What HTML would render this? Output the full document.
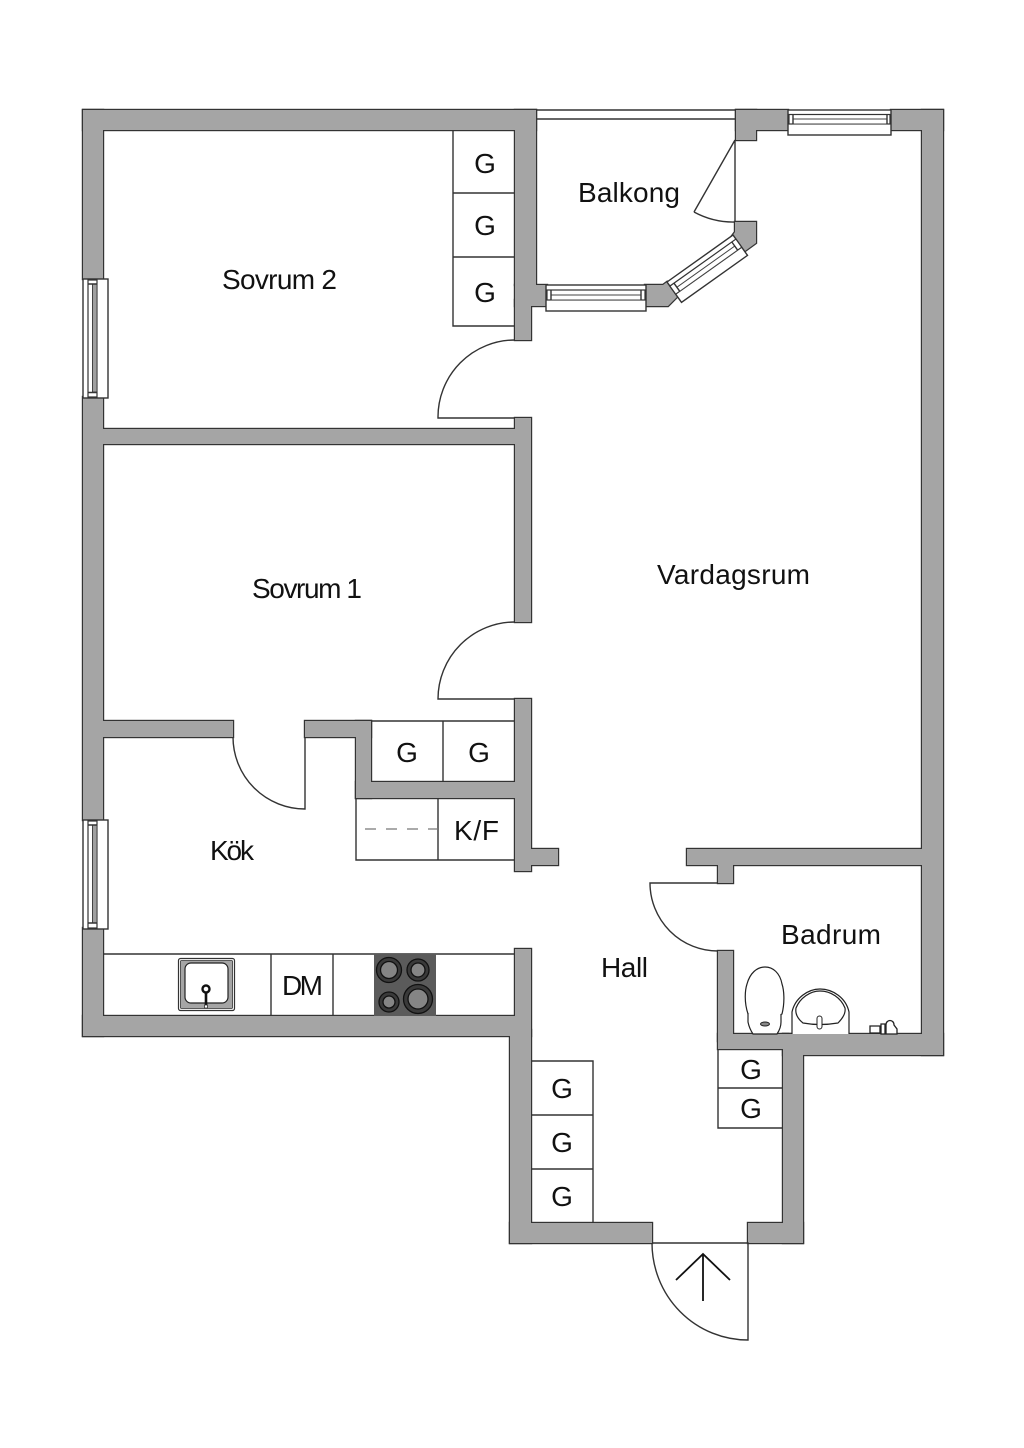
<!DOCTYPE html>
<html><head><meta charset="utf-8"><style>
html,body{margin:0;padding:0;background:#fff;width:1024px;height:1448px;overflow:hidden}
svg{display:block}
text{font-family:"Liberation Sans",sans-serif;font-size:28px;fill:#111}
.l{fill:none;stroke:#333;stroke-width:1.4}
.f{fill:#fff;stroke:#333;stroke-width:1.4}
</style></head><body>
<svg width="1024" height="1448" viewBox="0 0 1024 1448" xmlns="http://www.w3.org/2000/svg">
<defs><g id="w">
<rect x="83" y="110" width="20" height="169"/><rect x="83" y="397" width="20" height="423"/><rect x="83" y="928" width="20" height="108"/>
<rect x="83" y="110" width="453" height="20"/>
<rect x="515" y="110" width="21" height="175"/><rect x="515" y="285" width="32" height="21"/><rect x="515" y="300" width="16" height="40"/>
<rect x="515" y="418" width="16" height="204"/><rect x="515" y="699" width="16" height="172"/><rect x="525" y="849" width="33" height="16"/>
<rect x="100" y="429" width="420" height="15"/><rect x="100" y="721" width="133" height="16"/><rect x="305" y="721" width="66" height="16"/>
<rect x="356" y="721" width="15" height="77"/><rect x="356" y="782" width="164" height="16"/>
<rect x="515" y="949" width="16" height="87"/><rect x="83" y="1016" width="447" height="20"/>
<rect x="510" y="1030" width="21" height="213"/><rect x="510" y="1223" width="142" height="20"/><rect x="748" y="1223" width="55" height="20"/>
<rect x="783" y="1034" width="20" height="209"/><rect x="783" y="1034" width="160" height="21"/><rect x="718" y="1034" width="70" height="15"/>
<rect x="718" y="951" width="15" height="90"/><rect x="718" y="860" width="15" height="23"/><rect x="687" y="849" width="240" height="16"/>
<rect x="922" y="110" width="21" height="945"/><rect x="891" y="110" width="52" height="20"/><rect x="736" y="110" width="52" height="20"/><rect x="736" y="110" width="20" height="30"/>
<polygon points="735,222 756,222 756,243 745,251 732,236 735,232"/>
<polygon points="645,285 663,285 667,282 677,297 668,306 645,306"/>
</g></defs>

<use href="#w" fill="#333" stroke="#333" stroke-width="2.4"/>
<use href="#w" fill="#a5a5a5"/>

<!-- balcony -->
<path class="l" d="M536 110H735M536 119H735M735 140V222M735 140L694 212"/>
<path class="l" d="M694 212A82 82 0 0 0 735 222"/>

<!-- doors -->
<path class="l" d="M515 418H438A77 77 0 0 1 515 340"/>
<path class="l" d="M515 699H438A77 77 0 0 1 515 622"/>
<path class="l" d="M305 737V809A72 72 0 0 1 233 737"/>
<path class="l" d="M718 883H650A68 68 0 0 0 718 951"/>
<path class="l" d="M652 1243H748V1340A96 97 0 0 1 652 1243"/>
<path d="M703 1301V1254M676 1280L703 1254L730 1280" fill="none" stroke="#111" stroke-width="1.8"/>

<!-- closets -->
<path class="l" d="M453 130V326H515M453 193H515M453 257H515"/>
<path class="l" d="M371 721H515M443 721V782"/>
<path class="l" d="M356 798V860H515M438 798V860"/>
<path d="M365 829H438" fill="none" stroke="#777" stroke-width="1.3" stroke-dasharray="11 10"/>
<path class="l" d="M531 1061H593V1223M531 1115H593M531 1169H593"/>
<path class="l" d="M718 1049V1128H783M718 1088H783"/>

<!-- kitchen counter -->
<path class="l" d="M103 954H515M271 954V1016M333 954V1016"/>
<rect x="374" y="954" width="62" height="62" fill="#5b5b5b"/>
<g stroke="#111" stroke-width="1.3">
<circle cx="389" cy="970" r="12.5" fill="#3a3a3a"/><circle cx="389" cy="970" r="8.5" fill="#858585"/>
<circle cx="418" cy="970" r="11" fill="#3a3a3a"/><circle cx="418" cy="970" r="7" fill="#858585"/>
<circle cx="389" cy="1002" r="10" fill="#3a3a3a"/><circle cx="389" cy="1002" r="6" fill="#858585"/>
<circle cx="418" cy="999" r="14.5" fill="#3a3a3a"/><circle cx="418" cy="999" r="10" fill="#858585"/>
</g>
<rect x="178.5" y="958.5" width="56" height="52" rx="2" fill="#fff" stroke="#333" stroke-width="1.2"/>
<rect x="180.5" y="960.5" width="52" height="48" rx="1" fill="#a5a5a5" stroke="#333" stroke-width=".8"/>
<rect x="185" y="963" width="43" height="40" rx="6" fill="#fff" stroke="#222" stroke-width="1.2"/>
<path d="M206 990V1005" stroke="#111" stroke-width="2.6"/>
<circle cx="206" cy="989" r="3.5" fill="#fff" stroke="#111" stroke-width="2.4"/>
<rect x="204.500" y="1005" width="3" height="3" fill="#fff" stroke="#333" stroke-width=".8"/>

<!-- windows -->
<g>
<rect class="f" x="83" y="279" width="25" height="119"/>
<rect x="88" y="280" width="9" height="117" fill="#fff" stroke="#333" stroke-width="1.2"/>
<rect x="92.500" y="284" width="4.500" height="108" fill="#a0a0a0" stroke="#444" stroke-width="1"/>
<path class="l" d="M88 284H97M88 392.500H97"/>
<rect class="f" x="83" y="820" width="25" height="109"/>
<rect x="88" y="821" width="9" height="107" fill="#fff" stroke="#333" stroke-width="1.2"/>
<rect x="92.500" y="825" width="4.500" height="98" fill="#a0a0a0" stroke="#444" stroke-width="1"/>
<path class="l" d="M88 825H97M88 923H97"/>
</g>
<g>
<rect class="f" x="788" y="110" width="103" height="25"/>
<rect x="789" y="114.500" width="101" height="9.500" fill="#fff" stroke="#333" stroke-width="1.2"/>
<rect x="793" y="119" width="94" height="5" fill="#fff" stroke="#444" stroke-width="1"/>
<path class="l" d="M793 114.500V124M887 114.500V124"/>
<rect class="f" x="546" y="285" width="100" height="26"/>
<rect x="547" y="290" width="98" height="10" fill="#fff" stroke="#333" stroke-width="1.2"/>
<rect x="551" y="295" width="90" height="5" fill="#fff" stroke="#444" stroke-width="1"/>
<path class="l" d="M551 290V300M641 290V300"/>
</g>
<g transform="matrix(.815 -.58 .58 .815 667 282)">
<rect class="f" x="0" y="0" width="81" height="25"/>
<rect x="0" y="5" width="81" height="10" fill="#fff" stroke="#333" stroke-width="1.2"/>
<rect x="5" y="10" width="71" height="5" fill="#fff" stroke="#444" stroke-width="1"/>
<path class="l" d="M5 5V15M76 5V15"/>
</g>

<!-- bathroom -->
<path d="M748 1014C744 1002 745 990 747 984C750 973 757 967 765 967C773 967 780 973 782 984C784 990 785 1002 782 1014C775 1018 755 1018 748 1014Z" fill="#fff" stroke="#222" stroke-width="1.2"/>
<path d="M748 1014V1022C749 1027 751 1031 753 1034H777C779 1031 781 1027 781 1022V1014" fill="#fff" stroke="#222" stroke-width="1.2"/>
<ellipse cx="765" cy="1024" rx="4.500" ry="2" fill="#888" stroke="#222" stroke-width="1"/>
<path d="M792 1034V1012C795 998 808 989 820 989C833 989 846 998 849 1012V1034" fill="#fff" stroke="#222" stroke-width="1.2"/>
<path d="M796 1008C800 998 810 991 820 991C831 991 841 998 845 1008C846 1014 842 1019 838 1023C826 1025 814 1025 803 1023C798 1019 795 1014 796 1008Z" fill="#fff" stroke="#222" stroke-width="1.2"/>
<rect x="817" y="1016" width="5" height="13" rx="2.500" fill="#fff" stroke="#222" stroke-width="1"/>
<path d="M870 1026H880V1033H870ZM881 1034V1024H885V1034ZM886 1034V1025C886 1019 894 1019 894 1025L897 1029V1034Z" fill="#fff" stroke="#222" stroke-width="1.3"/>

<!-- labels -->
<text x="578" y="202" textLength="102">Balkong</text>
<text x="222" y="289" textLength="115">Sovrum 2</text>
<text x="252" y="598" textLength="110">Sovrum 1</text>
<text x="657" y="584" textLength="153">Vardagsrum</text>
<text x="210" y="860" textLength="44">Kök</text>
<text x="601" y="977" textLength="47">Hall</text>
<text x="781" y="944" textLength="100">Badrum</text>
<text x="282" y="995" textLength="41">DM</text>
<text x="454" y="840" textLength="45">K/F</text>
<g text-anchor="middle">
<text x="485" y="173">G</text><text x="485" y="235">G</text><text x="485" y="302">G</text>
<text x="407" y="762">G</text><text x="479" y="762">G</text>
<text x="562" y="1098">G</text><text x="562" y="1152">G</text><text x="562" y="1206">G</text>
<text x="751" y="1079">G</text><text x="751" y="1118">G</text>
</g>
</svg>
</body></html>
